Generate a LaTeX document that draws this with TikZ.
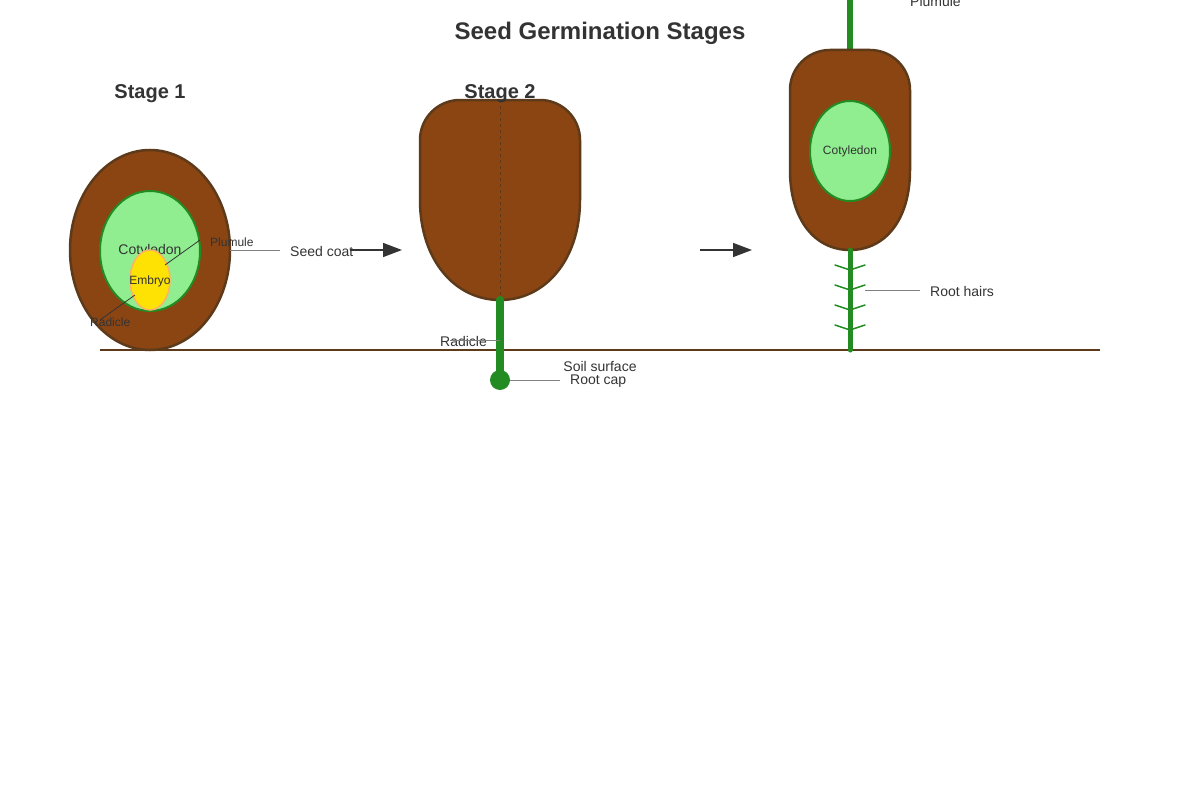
\documentclass[tikz,border=0pt]{standalone}
\usepackage{fontspec}
\setmainfont{Liberation Sans}
\usetikzlibrary{arrows,arrows.meta,shapes.geometric}
\definecolor{seedbrown}{HTML}{8B4513}
\definecolor{coatedge}{HTML}{5C3A1A}
\definecolor{leafgreen}{HTML}{90EE90}
\definecolor{stemgreen}{HTML}{228B22}
\definecolor{textgray}{HTML}{333333}
\begin{document}
\begin{tikzpicture}[x=1pt,y=-1pt]
\tikzstyle{seed} = [fill=seedbrown,draw=coatedge,line width=2.5pt]
\tikzstyle{coty} = [ellipse,fill=leafgreen,draw=stemgreen,line width=2pt,inner sep=0pt,text=textgray]
\tikzstyle{stem} = [draw=stemgreen,line cap=round]
\tikzstyle{lead} = [draw=gray,line width=1pt]
\tikzstyle{pointer} = [draw=textgray,line width=0.8pt]
\tikzstyle{growth} = [draw=textgray,line width=1.5pt,-{Triangle[length=19pt,width=14pt]}]
\tikzstyle{lbl} = [anchor=west,inner sep=0pt,text=textgray,font=\fontsize{14}{16}\selectfont]
\tikzstyle{small} = [anchor=west,inner sep=0pt,text=textgray,font=\fontsize{12}{14}\selectfont]
\tikzstyle{head} = [text=textgray,font=\bfseries\fontsize{20}{24}\selectfont]

\useasboundingbox (0,0) rectangle (1200,800);
\clip (0,0) rectangle (1200,800);

\node[head,font=\bfseries\fontsize{24}{28}\selectfont] (title) at (600,33) {Seed Germination Stages};
\node[head] (s1) at (150,94) {Stage 1};

% soil
\coordinate (soilL) at (100,350);
\coordinate (soilR) at (1100,350);
\draw[draw=coatedge,line width=2pt] (soilL) -- (soilR);

% stage 1
\node[ellipse,seed,minimum width=160,minimum height=200] (coat1) at (150,250) {};
\node[coty,minimum width=100,minimum height=120,font=\fontsize{14}{16}\selectfont] (coty1) at (150,251) {Cotyledon};
\node[ellipse,fill=yellow!85!orange,draw=orange!60,line width=1.5pt,minimum width=40,minimum height=60,inner sep=0pt] (emb) at (150,280) {};
\node[text=textgray,font=\fontsize{12}{14}\selectfont,inner sep=0pt] (embl) at (150,281) {Embryo};
\node[small] (plum1) at (210,242) {Plumule};
\node[small] (rad1) at (90,322) {Radicle};
\coordinate (p1) at (165,265);
\coordinate (p2) at (200,240);
\coordinate (r1) at (135,295);
\coordinate (r2) at (100,320);
\draw[pointer] (p1) -- (p2);
\draw[pointer] (r1) -- (r2);
\node[lbl] (coat) at (290,251) {Seed coat};
\coordinate (c1) at (230,250);
\coordinate (c2) at (280,250);
\draw[lead] (c1) -- (c2);
\coordinate (a1) at (350,250);
\coordinate (a2) at (402,250);
\draw[growth] (a1) -- (a2);

% stage 2
\draw[seed] (420,140) arc (180:270:40) -- (540,100) arc (270:360:40) -- (580,200)
  .. controls (580,260) and (545,300) .. (500,300) .. controls (455,300) and (420,260) .. (420,200) -- cycle;
\coordinate (d1) at (500,100);
\coordinate (d2) at (500,300);
\draw[coatedge,dashed,line width=1pt] (d1) -- (d2);
\node[head] (s2) at (500,94) {Stage 2};
\coordinate (rt2) at (500,380);
\draw[stem,line width=8pt] (d2) -- (rt2);
\node[circle,fill=stemgreen,minimum size=20,inner sep=0pt] (cap) at (rt2) {};
\node[lbl] (capl) at (570,381) {Root cap};
\coordinate (k1) at (510,380);
\coordinate (k2) at (560,380);
\draw[lead] (k1) -- (k2);
\node[lbl] (rad2) at (440,341) {Radicle};
\coordinate (q1) at (450,340);
\coordinate (q2) at (500,340);
\draw[lead] (q1) -- (q2);
\node[text=textgray,font=\fontsize{14}{16}\selectfont] (soil) at (600,366) {Soil surface};
\coordinate (b1) at (700,250);
\coordinate (b2) at (752,250);
\draw[growth] (b1) -- (b2);

% stage 3
\coordinate (top3) at (850,50);
\coordinate (tip3) at (850,-10);
\coordinate (bot3) at (850,250);
\coordinate (end3) at (850,350);
\draw[stem,line width=6pt] (top3) -- (tip3);
\draw[seed] (790,90) arc (180:270:40) -- (870,50) arc (270:360:40) -- (910,170)
  .. controls (910,220) and (885,250) .. (bot3) .. controls (815,250) and (790,220) .. (790,170) -- cycle;
\node[coty,minimum width=80,minimum height=100,font=\fontsize{12}{14}\selectfont] (coty3) at (850,151) {Cotyledon};
\coordinate (pl1) at (850,0);
\coordinate (pl2) at (900,0);
\draw[lead] (pl1) -- (pl2);
\node[lbl] (plum3) at (910,1) {Plumule};
\draw[stem,line width=5pt] (bot3) -- (end3);
\foreach \y in {270,290,310,330}
  \draw[stem,line width=1.5pt] (835,\y-5) -- (850,\y) -- (865,\y-5);
\coordinate (h1) at (865,290);
\coordinate (h2) at (920,290);
\draw[lead] (h1) -- (h2);
\node[lbl] (hairs) at (930,291) {Root hairs};
\end{tikzpicture}
\end{document}
